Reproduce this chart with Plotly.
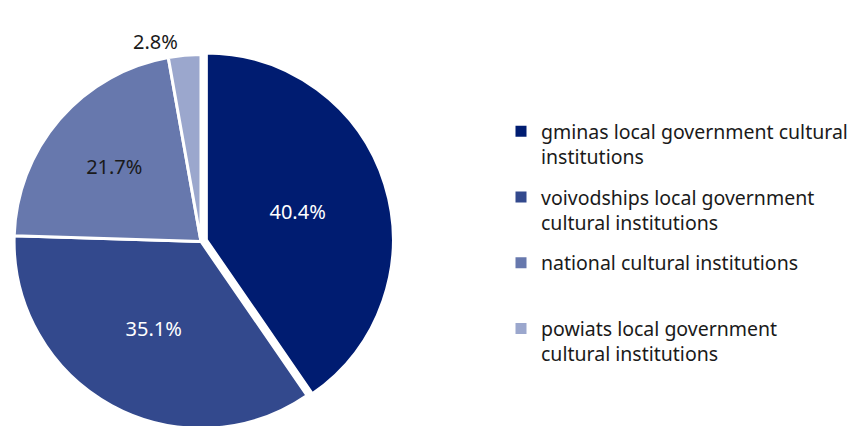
import plotly.graph_objects as go

categories = [
    "gminas local government cultural institutions",
    "voivodships local government cultural institutions",
    "national cultural institutions",
    "powiats local government cultural institutions",
]
legend_labels = [
    "gminas local government cultural<br>institutions",
    "voivodships local government<br>cultural institutions",
    "national cultural institutions<br> ",
    "powiats local government<br>cultural institutions",
]
shares = [40.4, 35.1, 21.7, 2.8]
colors = ["#001c71", "#33498d", "#6778ad", "#9ba7cd"]
pulls = [0.03, 0, 0, 0]
text_colors = ["white", "white", "#1a1a1a", "#1a1a1a"]
text_positions = ["inside", "inside", "inside", "outside"]

FONT = "Noto Sans"

fig = go.Figure()
fig.add_trace(
    go.Pie(
        labels=categories,
        values=shares,
        sort=False,
        direction="clockwise",
        rotation=0,
        pull=pulls,
        marker=dict(colors=colors, line=dict(color="white", width=3)),
        texttemplate="%{value:.1f}%",
        textposition=text_positions,
        insidetextorientation="horizontal",
        insidetextfont=dict(color=text_colors, size=20, family=FONT),
        outsidetextfont=dict(color="#1a1a1a", size=20, family=FONT),
        domain=dict(x=[0, 0.4504], y=[0, 1]),
        hoverinfo="label+percent",
        showlegend=False,
    )
)

for i, (lab, col) in enumerate(zip(legend_labels, colors)):
    fig.add_trace(
        go.Scatter(
            x=[None],
            y=[None],
            mode="markers",
            name=lab,
            legendgroup=f"g{i}",
            marker=dict(symbol="square", size=11, color=col),
            showlegend=True,
            hoverinfo="skip",
        )
    )

fig.update_layout(
    width=857,
    height=440,
    autosize=False,
    margin=dict(l=0, r=0, t=41, b=14, autoexpand=False),
    paper_bgcolor="white",
    plot_bgcolor="white",
    font=dict(family=FONT, size=19.5, color="#1a1a1a"),
    xaxis=dict(visible=False),
    yaxis=dict(visible=False),
    legend=dict(
        x=0.986,
        y=0.836,
        xanchor="right",
        yanchor="top",
        valign="top",
        traceorder="grouped",
        tracegroupgap=12,
        itemwidth=30,
        font=dict(size=19.5, family=FONT, color="#1a1a1a"),
    ),
)

fig.write_html("out.html")
